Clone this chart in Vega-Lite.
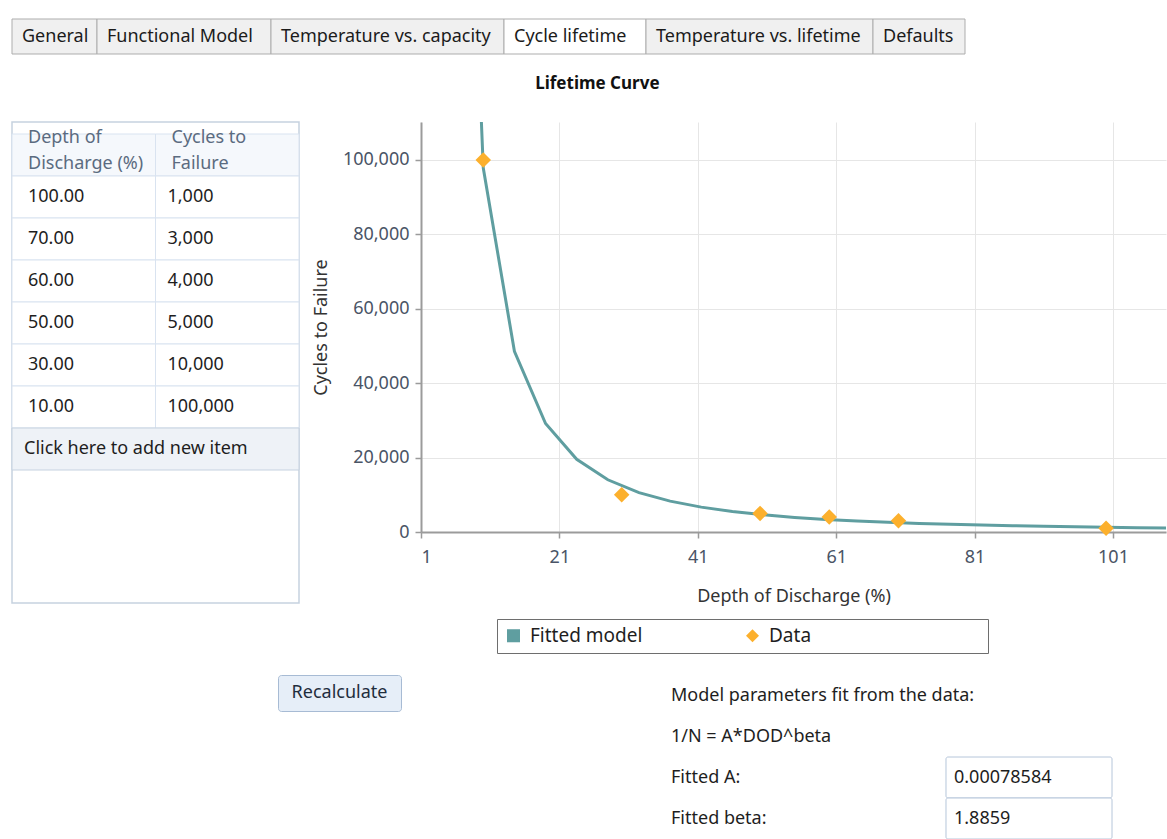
{
  "$schema": "https://vega.github.io/schema/vega-lite/v6.json",
  "background": "white",
  "padding": {"left": 10, "top": 18, "right": 0, "bottom": 0},
  "spacing": 20,
  "config": {
    "font": "Noto Sans",
    "view": {"stroke": null},
    "axis": {"labelFont": "Noto Sans", "titleFont": "Noto Sans"},
    "legend": {"labelFont": "Noto Sans", "titleFont": "Noto Sans"},
    "title": {"font": "Noto Sans"},
    "text": {"font": "Noto Sans"}
  },
  "datasets": {
    "tabs": [
      {"tab": "General", "i": 0, "j": 1, "selected": false},
      {"tab": "Functional Model", "i": 1, "j": 2, "selected": false},
      {"tab": "Temperature vs. capacity", "i": 2, "j": 3, "selected": false},
      {"tab": "Cycle lifetime", "i": 3, "j": 4, "selected": true},
      {"tab": "Temperature vs. lifetime", "i": 4, "j": 5, "selected": false},
      {"tab": "Defaults", "i": 5, "j": 6, "selected": false}
    ],
    "points": [
      {"dod": 100, "cycles": 1000, "series": "Data"},
      {"dod": 70, "cycles": 3000, "series": "Data"},
      {"dod": 60, "cycles": 4000, "series": "Data"},
      {"dod": 50, "cycles": 5000, "series": "Data"},
      {"dod": 30, "cycles": 10000, "series": "Data"},
      {"dod": 10, "cycles": 100000, "series": "Data"}
    ],
    "fit": [
      {"dod": 5.5, "cycles": 302160},
      {"dod": 10, "cycles": 97857},
      {"dod": 14.5, "cycles": 48560},
      {"dod": 19, "cycles": 29166},
      {"dod": 23.5, "cycles": 19533},
      {"dod": 28, "cycles": 14037},
      {"dod": 32.5, "cycles": 10596},
      {"dod": 37, "cycles": 8299},
      {"dod": 41.5, "cycles": 6683},
      {"dod": 46, "cycles": 5504},
      {"dod": 50.5, "cycles": 4616},
      {"dod": 55, "cycles": 3929},
      {"dod": 59.5, "cycles": 3388},
      {"dod": 64, "cycles": 2952},
      {"dod": 68.5, "cycles": 2597},
      {"dod": 73, "cycles": 2304},
      {"dod": 77.5, "cycles": 2058},
      {"dod": 82, "cycles": 1850},
      {"dod": 86.5, "cycles": 1673},
      {"dod": 91, "cycles": 1520},
      {"dod": 95.5, "cycles": 1388},
      {"dod": 100, "cycles": 1273},
      {"dod": 104.5, "cycles": 1171},
      {"dod": 109, "cycles": 1082}
    ]
  },
  "vconcat": [
    {
      "width": 1157,
      "height": 35,
      "data": {"name": "tabs"},
      "layer": [
        {
          "mark": {"type": "rect", "stroke": "#adadad", "strokeWidth": 1},
          "encoding": {
            "x": {"field": "i", "type": "quantitative", "scale": {"domain": [0, 1, 2, 3, 4, 5, 6], "range": [0, 85, 259, 492, 634, 861, 953], "nice": false, "zero": false}, "axis": null},
            "x2": {"field": "j"},
            "fill": {"condition": {"test": "datum.selected", "value": "#ffffff"}, "value": "#f0f0f0"}
          }
        },
        {
          "mark": {"type": "text", "align": "left", "baseline": "middle", "dx": 10, "fontSize": 18, "color": "#1b1b1b"},
          "encoding": {
            "x": {"field": "i", "type": "quantitative"},
            "text": {"field": "tab"}
          }
        }
      ]
    },
    {
      "title": {"text": "Lifetime Curve", "fontSize": 17, "fontWeight": "bold", "color": "#111111", "anchor": "middle", "offset": 28, "dx": 9},
      "spacing": 11,
      "resolve": {"scale": {"color": "independent", "shape": "independent"}},
      "hconcat": [
        {
          "width": 287,
          "height": 481,
          "view": {"stroke": "#c6d2e0", "strokeWidth": 1.5},
          "layer": [
            {
              "data": {"values": [{"col": "dod", "head": ["Depth of", "Discharge (%)"]}, {"col": "cycles", "head": ["Cycles to", "Failure"]}]},
              "layer": [
                {
                  "mark": {"type": "rect", "fill": "#f5f8fc", "stroke": "#d9e3f0"},
                  "encoding": {
                    "x": {"field": "col", "type": "nominal", "scale": {"type": "band", "domain": ["dod", "cycles"], "paddingInner": 0, "paddingOuter": 0}, "axis": null},
                    "y": {"datum": "h", "type": "ordinal", "scale": {"type": "band", "domain": ["h", 100, 70, 60, 50, 30, 10, "add"], "range": [12, 348], "paddingInner": 0, "paddingOuter": 0}, "axis": null}
                  }
                },
                {
                  "mark": {"type": "text", "align": "left", "baseline": "middle", "dx": 16, "dy": -17, "fontSize": 18, "lineHeight": 26, "color": "#5b6b80"},
                  "encoding": {
                    "x": {"field": "col", "type": "nominal", "bandPosition": 0},
                    "y": {"datum": "h", "type": "ordinal"},
                    "text": {"field": "head"}
                  }
                }
              ]
            },
            {
              "data": {"name": "points"},
              "layer": [
                {
                  "mark": {"type": "rect", "fill": "#ffffff", "stroke": "#d9e3f0"},
                  "encoding": {
                    "x": {"datum": "dod", "type": "nominal"},
                    "y": {"field": "dod", "type": "ordinal"}
                  }
                },
                {
                  "mark": {"type": "rect", "fill": "#ffffff", "stroke": "#d9e3f0"},
                  "encoding": {
                    "x": {"datum": "cycles", "type": "nominal"},
                    "y": {"field": "dod", "type": "ordinal"}
                  }
                },
                {
                  "mark": {"type": "text", "align": "left", "baseline": "middle", "dx": 16, "fontSize": 18, "color": "#1e1e1e"},
                  "encoding": {
                    "x": {"datum": "dod", "type": "nominal", "bandPosition": 0},
                    "y": {"field": "dod", "type": "ordinal"},
                    "text": {"field": "dod", "type": "quantitative", "format": ".2f"}
                  }
                },
                {
                  "mark": {"type": "text", "align": "left", "baseline": "middle", "dx": 12, "fontSize": 18, "color": "#1e1e1e"},
                  "encoding": {
                    "x": {"datum": "cycles", "type": "nominal", "bandPosition": 0},
                    "y": {"field": "dod", "type": "ordinal"},
                    "text": {"field": "cycles", "type": "quantitative", "format": ","}
                  }
                }
              ]
            },
            {
              "data": {"values": [{"label": "Click here to add new item"}]},
              "layer": [
                {
                  "mark": {"type": "rect", "fill": "#eef2f7", "stroke": "#c6d2e0"},
                  "encoding": {
                    "y": {"datum": "add", "type": "ordinal"}
                  }
                },
                {
                  "mark": {"type": "text", "align": "left", "baseline": "middle", "dx": 12, "fontSize": 18, "color": "#1e1e1e"},
                  "encoding": {
                    "x": {"datum": "dod", "type": "nominal", "bandPosition": 0},
                    "y": {"datum": "add", "type": "ordinal"},
                    "text": {"field": "label"}
                  }
                }
              ]
            }
          ]
        },
        {
          "width": 745,
          "height": 410,
          "layer": [
            {
              "data": {"name": "fit"},
              "mark": {"type": "line", "color": "#5f9ea0", "strokeWidth": 3, "clip": true},
              "encoding": {
                "x": {
                  "field": "dod", "type": "quantitative",
                  "scale": {"domain": [1, 108.66], "nice": false, "zero": false},
                  "axis": {
                    "title": "Depth of Discharge (%)", "values": [1, 21, 41, 61, 81, 101],
                    "grid": true, "gridColor": "#e6e6e6",
                    "domainColor": "#9b9b9b", "domainWidth": 2,
                    "tickColor": "#9b9b9b", "tickWidth": 1.5, "tickSize": 6,
                    "labelFontSize": 18, "labelColor": "#4a5466", "labelPadding": 10,
                    "titleFontSize": 18, "titleFontWeight": "normal", "titleColor": "#333333", "titlePadding": 21
                  }
                },
                "y": {
                  "field": "cycles", "type": "quantitative",
                  "scale": {"domain": [0, 110215], "nice": false},
                  "axis": {
                    "title": "Cycles to Failure", "values": [0, 20000, 40000, 60000, 80000, 100000],
                    "labelExpr": "format(datum.value, ',')",
                    "grid": true, "gridColor": "#e6e6e6",
                    "domainColor": "#9b9b9b", "domainWidth": 2,
                    "tickColor": "#9b9b9b", "tickWidth": 1.5, "tickSize": 6,
                    "labelFontSize": 18, "labelColor": "#4a5466", "labelPadding": 6,
                    "titleFontSize": 18, "titleFontWeight": "normal", "titleColor": "#333333", "titlePadding": 12
                  }
                }
              }
            },
            {
              "data": {"name": "points"},
              "mark": {"type": "point", "filled": true, "size": 240, "opacity": 1},
              "encoding": {
                "x": {"field": "dod", "type": "quantitative"},
                "y": {"field": "cycles", "type": "quantitative"},
                "color": {
                  "field": "series", "type": "nominal",
                  "scale": {"domain": ["Fitted model", "Data"], "range": ["#5f9ea0", "#fcb02d"]},
                  "legend": {
                    "title": "\u00a0", "titleOrient": "right", "titlePadding": 170,
                    "orient": "none", "legendX": 76, "legendY": 497,
                    "direction": "horizontal", "columns": 2, "columnPadding": 100,
                    "strokeColor": "#6e6e6e", "fillColor": "#ffffff", "padding": 7,
                    "symbolSize": 170, "symbolStrokeWidth": 0, "labelOffset": 7,
                    "labelFontSize": 19, "labelColor": "#1e1e1e"
                  }
                },
                "shape": {
                  "field": "series", "type": "nominal",
                  "scale": {"domain": ["Fitted model", "Data"], "range": ["square", "diamond"]},
                  "legend": {
                    "title": "\u00a0", "titleOrient": "right", "titlePadding": 170,
                    "orient": "none", "legendX": 76, "legendY": 497,
                    "direction": "horizontal", "columns": 2, "columnPadding": 100,
                    "strokeColor": "#6e6e6e", "fillColor": "#ffffff", "padding": 7,
                    "symbolSize": 170, "symbolStrokeWidth": 0, "labelOffset": 7,
                    "labelFontSize": 19, "labelColor": "#1e1e1e"
                  }
                }
              }
            }
          ]
        }
      ]
    },
    {
      "spacing": 10,
      "hconcat": [
        {
          "width": 255, "height": 36,
          "data": {"values": [{}]},
          "mark": {"type": "text"},
          "encoding": {"text": {"value": ""}}
        },
        {
          "width": 123, "height": 36,
          "view": {"fill": "#e6eef8", "stroke": "#a7bbd4", "cornerRadius": 3},
          "data": {"values": [{"label": "Recalculate"}]},
          "mark": {"type": "text", "fontSize": 18, "color": "#1f2d3d", "baseline": "middle"},
          "encoding": {"text": {"field": "label"}}
        },
        {
          "width": 239, "height": 36,
          "data": {"values": [{}]},
          "mark": {"type": "text"},
          "encoding": {"text": {"value": ""}}
        },
        {
          "width": 451, "height": 164,
          "data": {"values": [
            {"label": "Model parameters fit from the data:"},
            {"label": "1/N = A*DOD^beta"},
            {"label": "Fitted A:", "value": "0.00078584"},
            {"label": "Fitted beta:", "value": "1.8859"}
          ]},
          "encoding": {
            "y": {"field": "label", "type": "nominal", "sort": null, "scale": {"type": "band", "paddingInner": 0, "paddingOuter": 0}, "axis": null}
          },
          "layer": [
            {
              "mark": {"type": "text", "align": "left", "baseline": "middle", "dx": 10, "fontSize": 18, "color": "#1e1e1e"},
              "encoding": {
                "x": {"datum": "label", "type": "nominal", "bandPosition": 0, "scale": {"type": "band", "domain": ["label", "value"], "paddingInner": 0.4175, "paddingOuter": 0}, "axis": null},
                "text": {"field": "label"}
              }
            },
            {
              "transform": [{"filter": "isValid(datum.value)"}],
              "mark": {"type": "rect", "fill": "#ffffff", "stroke": "#b6c6da", "cornerRadius": 2},
              "encoding": {
                "x": {"datum": "value", "type": "nominal"}
              }
            },
            {
              "transform": [{"filter": "isValid(datum.value)"}],
              "mark": {"type": "text", "align": "left", "baseline": "middle", "dx": 8, "fontSize": 18, "color": "#1e1e1e"},
              "encoding": {
                "x": {"datum": "value", "type": "nominal", "bandPosition": 0},
                "text": {"field": "value"}
              }
            }
          ]
        }
      ]
    }
  ]
}
